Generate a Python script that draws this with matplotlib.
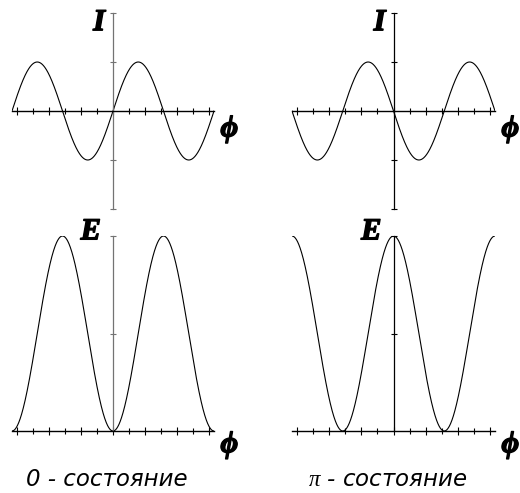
import numpy as np
import matplotlib
matplotlib.use("Agg")
import matplotlib.pyplot as plt
import matplotlib.patheffects as pe
from matplotlib.ticker import FixedLocator

# Josephson junction: current I = sin(phi + delta), energy E = 1 - cos(phi + delta)
phase_shifts = [0.0, np.pi]                 # 0-state and pi-state
state_names = ["0 - состояние", r"$\pi$ - состояние"]
current_ticks = [-2, -1, 1, 2]
energy_ticks = [1, 2]
phi_major_ticks = [-6, -4, -2, 0, 2, 4, 6]
phi_minor_ticks = [-5, -3, -1, 1, 3, 5]

plt.rcParams["mathtext.fontset"] = "custom"
plt.rcParams["mathtext.it"] = "Liberation Serif:italic"
plt.rcParams["mathtext.rm"] = "Liberation Serif"

W, H = 520, 493
fig = plt.figure(figsize=(W / 100, H / 100), dpi=100)

phi = np.linspace(-2 * np.pi, 2 * np.pi, 1200)

def px_axes(x0, x1, ytop, ybot):
    return fig.add_axes([x0 / W, 1 - ybot / H, (x1 - x0) / W, (ybot - ytop) / H])

label_font = dict(family="Liberation Serif", weight="bold", style="italic", fontsize=22,
                  path_effects=[pe.withStroke(linewidth=1.0, foreground="black")])

def style_axes(ax, ylim, yticks, yaxis_color):
    ax.set_xlim(-2 * np.pi, 2 * np.pi)
    ax.set_ylim(*ylim)
    for s in ("top", "right"):
        ax.spines[s].set_visible(False)
    ax.spines["left"].set_position(("data", 0))
    ax.spines["bottom"].set_position(("data", 0))
    ax.spines["left"].set_color(yaxis_color)
    ax.spines["left"].set_linewidth(0.9)
    ax.spines["bottom"].set_linewidth(1.0)
    ax.xaxis.set_major_locator(FixedLocator(phi_major_ticks))
    ax.xaxis.set_minor_locator(FixedLocator(phi_minor_ticks))
    ax.yaxis.set_major_locator(FixedLocator(yticks))
    ax.tick_params(axis="x", which="major", direction="inout", length=6, width=0.8,
                   labelbottom=False)
    ax.tick_params(axis="x", which="minor", direction="inout", length=4, width=0.8)
    ax.tick_params(axis="y", which="major", direction="inout", length=5, width=0.8,
                   color=yaxis_color, labelleft=False)
    ax.patch.set_visible(False)

panels = [
    # (x_left, x_right) in pixels for each column
    (12, 214),
    (292, 495),
]

for col, (delta, name) in enumerate(zip(phase_shifts, state_names)):
    x0, x1 = panels[col]
    ycol = "0.45" if col == 0 else "black"

    # current-phase relation
    ax = px_axes(x0, x1, 13, 209)
    style_axes(ax, (-2, 2), current_ticks, ycol)
    ax.plot(phi, np.sin(phi + delta), color="black", lw=0.8)
    ax.annotate("I", xy=(0, 2), xycoords="data", xytext=(-10, -7),
                textcoords="offset points", ha="center", va="center", **label_font)
    ax.annotate("ϕ", xy=(1, 0), xycoords=("axes fraction", "data"), xytext=(11, -13),
                textcoords="offset points", ha="center", va="center", **label_font)

    # energy-phase relation
    ax = px_axes(x0, x1, 236, 431)
    style_axes(ax, (0, 2), energy_ticks, ycol)
    ax.plot(phi, 1 - np.cos(phi + delta), color="black", lw=0.8)
    ax.annotate("E", xy=(0, 2), xycoords="data", xytext=(-16, 3),
                textcoords="offset points", ha="center", va="center", **label_font)
    ax.annotate("ϕ", xy=(1, 0), xycoords=("axes fraction", "data"), xytext=(11, -10),
                textcoords="offset points", ha="center", va="center", **label_font)

    fig.text(((x0 + x1) / 2 - 6) / W, 1 - 486 / H, name, ha="center", va="baseline",
             family="DejaVu Sans", style="oblique", fontsize=16.5)

fig.savefig("out.png", dpi=100)
